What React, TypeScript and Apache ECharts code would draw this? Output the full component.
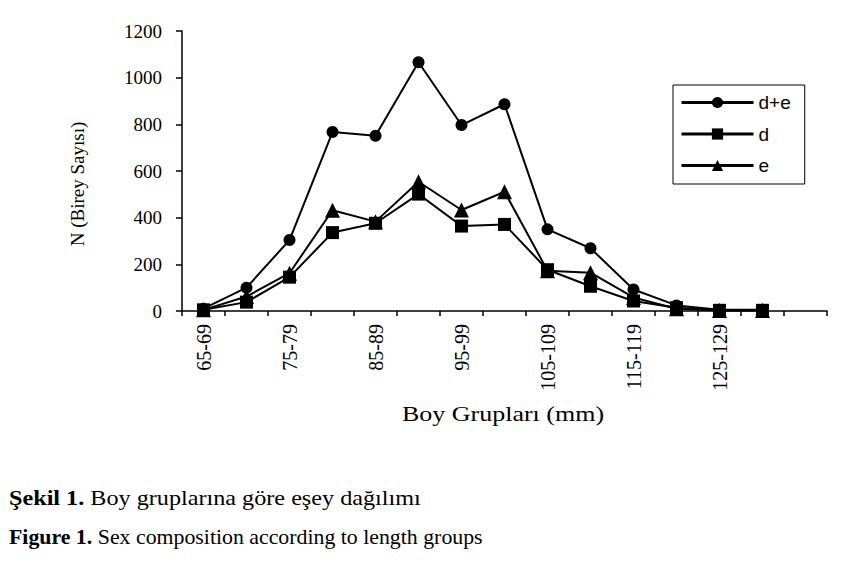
import React, { useEffect, useRef } from "react";
import * as echarts from "echarts";

const categories = [
  "65-69", "70-74", "75-79", "80-84", "85-89", "90-94", "95-99",
  "100-104", "105-109", "110-114", "115-119", "120-124", "125-129", "130-134", "",
];
const seriesNames = ["d+e", "d", "e"];
const valuesDE = [10, 100, 304, 767, 751, 1066, 797, 886, 350, 269, 92, 24, 5, 5];
const valuesD = [5, 38, 145, 336, 376, 501, 364, 371, 177, 106, 43, 14, 3, 3];
const valuesE = [5, 62, 162, 432, 383, 554, 433, 511, 173, 164, 58, 10, 2, 2];
const yTicks = { min: 0, max: 1200, interval: 200 };

const serif = "'Liberation Serif', 'Times New Roman', serif";
const sans = "'Liberation Sans', Arial, sans-serif";

export default function App() {
  const ref = useRef<HTMLDivElement>(null);
  useEffect(() => {
    if (!ref.current) return;
    const chart = echarts.init(ref.current, undefined, { renderer: "svg" });
    const mk = (name: string, data: number[], symbol: string, size: number) => ({
      name,
      type: "line",
      data,
      symbol,
      symbolSize: size,
      showSymbol: true,
      lineStyle: { color: "#000", width: 2 },
      itemStyle: { color: "#000" },
      emphasis: { disabled: true },
    });
    chart.setOption({
      animation: false,
      backgroundColor: "#fff",
      grid: { left: 182, right: 18, top: 31, bottom: 259, containLabel: false },
      xAxis: {
        type: "category",
        data: categories,
        boundaryGap: true,
        axisLine: { lineStyle: { color: "#000", width: 1.5 } },
        axisTick: { show: true, interval: 0, length: 5, lineStyle: { color: "#000", width: 1.5 } },
        axisLabel: {
          interval: 1,
          rotate: 90,
          margin: 13,
          color: "#000",
          fontFamily: serif,
          fontSize: 20,
        },
        splitLine: { show: false },
      },
      yAxis: {
        type: "value",
        min: yTicks.min,
        max: yTicks.max,
        interval: yTicks.interval,
        axisLine: { show: true, lineStyle: { color: "#000", width: 1.5 } },
        axisTick: { show: true, length: 6, lineStyle: { color: "#000", width: 1.5 } },
        axisLabel: {
          margin: 20,
          color: "#000",
          fontFamily: serif,
          fontSize: 19,
          formatter: (v: number) => String(v),
        },
        splitLine: { show: false },
      },
      legend: {
        orient: "vertical",
        left: 673,
        top: 85,
        data: seriesNames,
        itemWidth: 72,
        itemHeight: 14,
        itemGap: 12.5,
        padding: [8, 14, 9, 7],
        borderColor: "#000",
        borderWidth: 1,
        borderRadius: 0,
        selectedMode: false,
        lineStyle: { width: 3 },
        textStyle: { color: "#000", fontFamily: sans, fontSize: 19 },
      },
      series: [
        mk(seriesNames[0], valuesDE, "circle", 12),
        mk(seriesNames[1], valuesD, "rect", 13),
        mk(seriesNames[2], valuesE, "triangle", 15),
      ],
      graphic: [
        {
          type: "text",
          x: 77,
          y: 184,
          rotation: Math.PI / 2,
          style: {
            text: "N (Birey Sayısı)",
            fontFamily: serif,
            fontSize: 19,
            fill: "#000",
            textAlign: "center",
            textVerticalAlign: "middle",
          },
        },
        {
          type: "text",
          x: 503,
          y: 414,
          scaleX: 1.3,
          style: {
            text: "Boy Grupları (mm)",
            fontFamily: serif,
            fontSize: 20,
            fill: "#000",
            textAlign: "center",
            textVerticalAlign: "middle",
          },
        },
        {
          type: "text",
          x: 9,
          y: 497,
          scaleX: 1.1,
          style: {
            text: "{b|Şekil 1.}{r| Boy gruplarına göre eşey dağılımı}",
            fill: "#000",
            textVerticalAlign: "middle",
            rich: {
              b: { fontWeight: "bold", fontFamily: serif, fontSize: 22, fill: "#000" },
              r: { fontFamily: serif, fontSize: 22, fill: "#000" },
            },
          },
        },
        {
          type: "text",
          x: 9,
          y: 537,
          scaleX: 1.04,
          style: {
            text: "{b|Figure 1.}{r| Sex composition according to length groups}",
            fill: "#000",
            textVerticalAlign: "middle",
            rich: {
              b: { fontWeight: "bold", fontFamily: serif, fontSize: 21, fill: "#000" },
              r: { fontFamily: serif, fontSize: 21, fill: "#000" },
            },
          },
        },
      ],
    });
    return () => chart.dispose();
  }, []);
  return (
    <div
      ref={ref}
      style={{ position: "fixed", left: 0, top: 0, width: 845, height: 570, background: "#fff" }}
    />
  );
}
